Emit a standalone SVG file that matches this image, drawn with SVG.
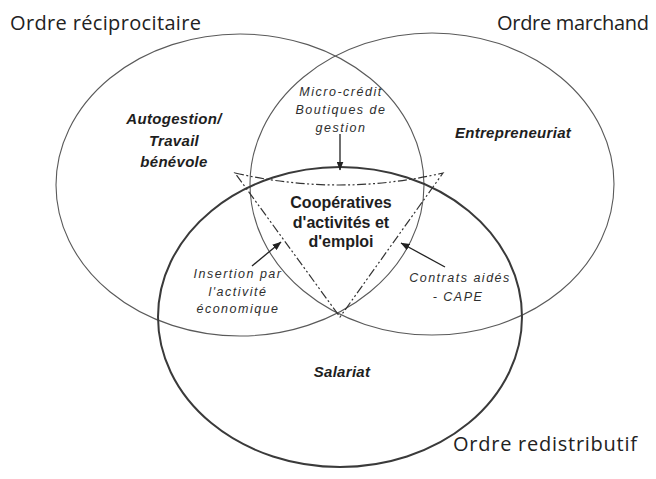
<svg xmlns="http://www.w3.org/2000/svg" width="656" height="479" viewBox="0 0 656 479">
  <defs>
    <marker id="head" markerUnits="userSpaceOnUse" markerWidth="9" markerHeight="7" refX="8.5" refY="3.5" orient="auto">
      <path d="M0,0 L9,3.5 L0,7 z" fill="#222"/>
    </marker>
    <style>
      .order { fill: none; stroke: #5a5a5a; stroke-width: 1.1; }
      .order-main { fill: none; stroke: #3a3a3a; stroke-width: 2; }
      .zone { fill: none; stroke: #333; stroke-width: 1.2; stroke-dasharray: 9 2.5 2 2.5 2 2.5; }
      .arrow { stroke: #222; stroke-width: 1.3; fill: none; marker-end: url(#head); }
      .title { font-family: "Open Sans", "Liberation Sans", sans-serif; font-size: 20px; fill: #222; }
      .sphere { font-family: "Liberation Sans", Arial, sans-serif; font-size: 15px; font-weight: bold; font-style: italic; fill: #1e1e1e; text-anchor: middle; letter-spacing: 0.3px; }
      .core { font-family: "Liberation Sans", Arial, sans-serif; font-size: 16px; font-weight: bold; fill: #1e1e1e; text-anchor: middle; }
      .note { font-family: "Liberation Sans", Arial, sans-serif; font-size: 12.5px; font-style: italic; fill: #2e2e2e; text-anchor: middle; letter-spacing: 1.5px; }
    </style>
  </defs>

  <!-- the three orders -->
  <g id="ordre-reciprocitaire">
    <ellipse class="order" cx="240" cy="185" rx="184" ry="151"/>
    <text class="title" x="10" y="30" textLength="191">Ordre réciprocitaire</text>
  </g>
  <g id="ordre-marchand">
    <ellipse class="order" cx="432" cy="184" rx="182" ry="151"/>
    <text class="title" x="497" y="30" textLength="152">Ordre marchand</text>
  </g>
  <g id="ordre-redistributif">
    <ellipse class="order-main" cx="340" cy="317" rx="182" ry="150"/>
    <text class="title" x="453" y="451" textLength="184">Ordre redistributif</text>
  </g>

  <!-- zone labels -->
  <g id="autogestion">
    <text class="sphere" x="174" y="124">Autogestion/</text>
    <text class="sphere" x="174" y="146">Travail</text>
    <text class="sphere" x="174" y="167">bénévole</text>
  </g>
  <g id="entrepreneuriat">
    <text class="sphere" x="513" y="138">Entrepreneuriat</text>
  </g>
  <g id="salariat">
    <text class="sphere" x="342" y="377">Salariat</text>
  </g>
  <g id="micro-credit">
    <text class="note" x="341" y="96">Micro-crédit</text>
    <text class="note" x="341" y="114">Boutiques de</text>
    <text class="note" x="341" y="132">gestion</text>
  </g>
  <g id="insertion">
    <text class="note" x="238" y="278">Insertion par</text>
    <text class="note" x="238" y="296">l'activité</text>
    <text class="note" x="238" y="313">économique</text>
  </g>
  <g id="contrats-aides">
    <text class="note" x="460" y="282">Contrats aidés</text>
    <text class="note" x="458" y="301">- CAPE</text>
  </g>

  <!-- central zone -->
  <g id="cooperatives">
    <path class="zone" d="M235,173 Q339,197 443,173 L340,317 Z"/>
    <text class="core" x="341" y="208">Coopératives</text>
    <text class="core" x="341" y="228">d'activités et</text>
    <text class="core" x="341" y="247">d'emploi</text>
  </g>

  <!-- connectors -->
  <g id="connectors">
    <line class="arrow" x1="340" y1="134" x2="340" y2="170"/>
    <line class="arrow" x1="252" y1="266" x2="281" y2="242"/>
    <line class="arrow" x1="445" y1="267" x2="401" y2="243"/>
  </g>
</svg>
